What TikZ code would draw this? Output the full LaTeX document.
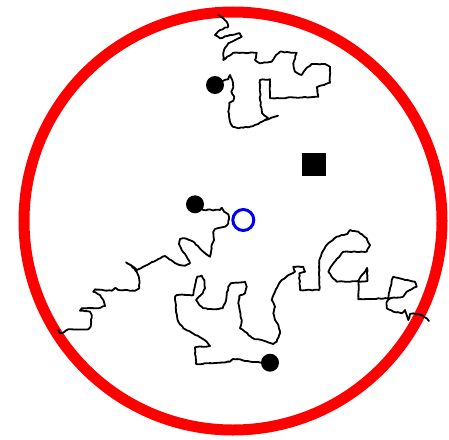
\documentclass[tikz,border=0pt]{standalone}
\usepackage{xcolor}
\usepackage{tikz}
\usetikzlibrary{decorations.pathmorphing}
\definecolor{rim}{HTML}{FF0000}
\definecolor{origincol}{HTML}{0000F0}

\begin{document}
\begin{tikzpicture}[x=1pt, y=-1pt,
  walkline/.style={draw=black, line width=1.8pt, line join=round, line cap=round,
    decorate, decoration={random steps, segment length=2.5pt, amplitude=0.45pt}},
  walker/.style={circle, fill=black, inner sep=0pt, minimum size=18pt},
  goal/.style={rectangle, fill=black, inner sep=0pt, minimum width=24pt, minimum height=23pt},
  origin/.style={circle, draw=origincol, line width=3pt, inner sep=0pt, minimum size=21pt}
]
  \useasboundingbox (0,0) rectangle (449,439);
  \pgfmathsetseed{7}
  % domain boundary
  \draw[rim, line width=11pt] (233,221) circle[radius=209];
  % marks
  \node[goal] (sq) at (314,164) {};
  \node[origin] (o) at (243.3,220) {};
  \coordinate (a0) at (215,85);
  \coordinate (b0) at (195,204.3);
  \coordinate (c0) at (270,362.7);
  % top walk
  \draw[walkline] (a0) -- (223.3,80.7) -- (228.3,79.3) -- (230,75) -- (232.3,80) -- (233.3,87.3)
    -- (231.3,91.7) -- (234.3,96.7) -- (233.3,100.7) -- (229.3,102.7) -- (228.3,111.7) -- (230,121.7)
    -- (232.7,126.7) -- (238.3,128.3) -- (250,126.7) -- (258.3,124) -- (265,120) -- (268.3,118.3)
    -- (262,113) -- (260,100) -- (260,80) -- (270,79.3) -- (270,98.3) -- (295,97.5) -- (318.3,96.7)
    -- (316.7,87.3) -- (330,82.7) -- (330,66.7) -- (325,64) -- (311.7,64) -- (305,70) -- (301.7,75)
    -- (295,71.7) -- (293.3,63.3) -- (296.7,52.7) -- (280,51.7) -- (275,56.7) -- (271.7,61.7)
    -- (260,63.3) -- (255,60) -- (256.7,52.7) -- (233.3,52.7) -- (223.3,60) -- (224,50)
    -- (228.3,43.3) -- (235,40) -- (241.7,36.7) -- (240,33.3) -- (230,35) -- (220,38.3)
    -- (215,35) -- (220,30) -- (228.3,26.7) -- (226.7,21.7) -- (223.3,18.3) -- (218.3,15);
  \draw[walkline] (265,120) -- (278,115.7);
  % middle walk
  \draw[walkline] (b0) -- (203.3,210) -- (220,210) -- (221.7,207.7) -- (224,211.7) -- (228.3,214.3)
    -- (229,219) -- (228.3,223.3) -- (225,226.7) -- (220,227.7) -- (215,229) -- (213.3,231.7)
    -- (214,240) -- (212,244) -- (211.7,248.3) -- (210,256.7) -- (206,254) -- (203.3,251.7)
    -- (198,246) -- (193.3,241.7) -- (185,238.3) -- (180,239) -- (179,244) -- (181.7,250)
    -- (186.7,256.7) -- (190,263.3) -- (185,265.7) -- (179.3,265) -- (173.3,261.7) -- (165,256)
    -- (158.3,259) -- (150,263.3) -- (143.3,266.7) -- (136.7,270) -- (133.3,266.7) -- (126,262.3)
    -- (131,265) -- (136.7,271.7) -- (139,278) -- (139.3,288.3) -- (135,290.7) -- (118.3,290)
    -- (115,288) -- (111.7,290.7) -- (95,289.3) -- (93.3,291.7) -- (100,295) -- (103.3,300)
    -- (105,306) -- (98.3,308.3) -- (81.7,308.3) -- (80,310.7) -- (90,311.7) -- (91.7,315)
    -- (90.7,326.7) -- (88.3,329.3) -- (68.3,329.3) -- (63.3,332.7) -- (60,333.3) -- (58.3,330);
  % bottom walk
  \draw[walkline] (c0) -- (260,362.5) -- (245,361) -- (240,359.3) -- (233,359) -- (230,361.7)
    -- (215,363) -- (196,364) -- (195,347.3) -- (210,346) -- (206.7,341.7) -- (200,337.3)
    -- (191.7,332.7) -- (183.3,328.3) -- (178.3,321.7) -- (176,310) -- (175,296.7) -- (176.7,295)
    -- (193.3,295) -- (195,285) -- (197.3,276.7) -- (201.7,275.7) -- (204.3,280) -- (205,288.3)
    -- (202.7,293.3) -- (198.3,297.3) -- (196,300) -- (199.3,305) -- (203.3,308.3) -- (213.3,309.3)
    -- (222.7,308.3) -- (225,303.3) -- (226.7,295) -- (228.3,286.7) -- (230.7,283.3) -- (238.3,282.7)
    -- (245,281.7) -- (246.7,286.7) -- (245,293.3) -- (239.3,296) -- (238.3,303.3) -- (240,311.7)
    -- (241.7,320) -- (240,328.3) -- (245,331.7) -- (250,336) -- (255,339.3) -- (261.7,340)
    -- (266.7,341.7) -- (273.3,344) -- (276.7,341.7) -- (280,333.3) -- (278.3,325) -- (275,320)
    -- (273.3,313.3) -- (275,306.7) -- (271.7,300) -- (275,291.7) -- (278.3,285) -- (281.7,280)
    -- (288.3,275) -- (295,271.7) -- (293.3,266.7) -- (303.3,266.7) -- (305,271.7) -- (299.3,273.3)
    -- (300,290) -- (319.3,290) -- (319.3,260) -- (321.7,253.3) -- (326.7,245) -- (336.7,236.7)
    -- (347.3,234) -- (350,230) -- (358.3,231.7) -- (366.7,238.3) -- (370,245) -- (366.7,251.7)
    -- (343.3,251.7) -- (333.3,263.3) -- (328.3,271.7) -- (331.7,276.7) -- (336.7,281.7) -- (345,281.7)
    -- (358.3,281) -- (367,268) -- (367.5,281) -- (358.5,282) -- (358.3,299.3) -- (388.3,298.3)
    -- (391.7,280) -- (393.3,276.7) -- (405,280) -- (415,281.7) -- (416.7,286.7) -- (406.7,291.7)
    -- (403.3,296.7) -- (390,298.3) -- (386.7,301.7) -- (386.7,308.3) -- (393.3,311.7) -- (401.7,313.3)
    -- (405,310) -- (406.7,315) -- (408.3,320) -- (410,314) -- (413.3,313.3) -- (421.7,315)
    -- (426.7,318.3) -- (429,321);
  % walkers
  \node[walker] (a) at (a0) {};
  \node[walker] (b) at (b0) {};
  \node[walker] (c) at (c0) {};
\end{tikzpicture}
\end{document}
